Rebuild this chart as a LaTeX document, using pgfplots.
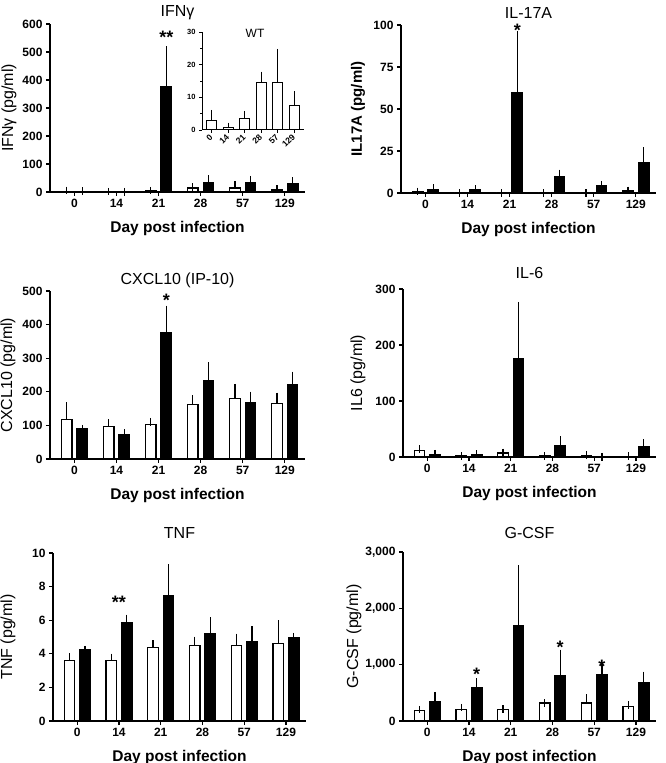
\documentclass[border=0pt]{standalone}
\usepackage{fontspec}
\setmainfont{Liberation Sans}
\usepackage{pgfplots}
\pgfplotsset{compat=1.18}
\newcommand\tickfont{\bfseries\fontsize{12}{14}\selectfont}
\newcommand\titlefont{\fontsize{16}{18}\selectfont}
\newcommand\ylabfont{\fontsize{16}{18}\selectfont}
\newcommand\xlabfont{\bfseries\fontsize{15.5}{18}\selectfont}
\newcommand\starfont{\bfseries\fontsize{18}{20}\selectfont}
\pgfplotsset{
  panel/.style={
    scale only axis, width=255pt, height=168pt,
    xmin=-0.58, xmax=5.48, ymin=0,
    axis x line*=bottom, axis y line*=left,
    axis line style={line width=1.4pt, -},
    xtick={0,1,2,3,4,5}, xticklabels={0,14,21,28,57,129},
    tick align=outside, major tick length=4pt,
    every tick/.style={black, line width=1.2pt},
    ticklabel style={font=\tickfont},
    /pgf/number format/assume math mode=true,
    /pgf/number format/1000 sep={,},
    ybar, bar width=0.25, clip=false,
    title style={at={(0.5,1)}, anchor=center, font=\titlefont},
    xlabel={Day post infection},
    xlabel style={at={(0.5,0)}, anchor=center, yshift=-36pt, font=\xlabfont},
    ylabel style={at={(0,0.5)}, anchor=center, font=\ylabfont},
  },
  wt/.style={draw=black, fill=white, line width=1.3pt, bar shift=-0.185,
    error bars/.cd, y dir=plus, y explicit,
    error bar style={line width=1.2pt, black},
    error mark options={line width=1.2pt, mark size=3.8pt, black}},
  ko/.style={draw=black, fill=black, line width=1.3pt, bar shift=0.185,
    error bars/.cd, y dir=plus, y explicit,
    error bar style={line width=1.2pt, black},
    error mark options={line width=1.2pt, mark size=3.8pt, black}},
}
\begin{document}
\begin{tikzpicture}[x=1pt,y=1pt]
\useasboundingbox (0,0) rectangle (666,763);

% ---------- IFN gamma ----------
\begin{axis}[panel, at={(50pt,571pt)}, anchor=south west,
  ymax=600, ytick={0,100,...,600},
  title={IFNγ}, title style={yshift=5pt},
  ylabel={IFNγ (pg/ml)}, ylabel style={yshift=41pt}]
\addplot[wt] coordinates {(0,2.8) +- (0,2.6) (1,0.8) +- (0,0.7) (2,3.4) +- (0,1.7) (3,14.4) +- (0,2.7) (4,14.6) +- (0,9.5) (5,7.6) +- (0,3.5)};
\addplot[ko] coordinates {(0,2) +- (0,0.5) (1,1) +- (0,0) (2,375) +- (0,132) (3,35) +- (0,12) (4,33) +- (0,11) (5,30) +- (0,9)};
\node[font=\starfont, anchor=base, yshift=-10pt] at (axis cs:2.185,565) {**};
\end{axis}

% ---------- inset WT ----------
\begin{axis}[scale only axis, width=102pt, height=98pt, at={(202pt,633pt)}, anchor=south west,
  xmin=-0.6, xmax=5.58, ymin=0, ymax=30,
  axis x line*=bottom, axis y line*=left,
  axis line style={line width=1pt, -},
  ytick={0,10,20,30}, minor ytick={5,15,25},
  xtick={0,1,2,3,4,5}, xticklabels={0,14,21,28,57,129},
  tick align=outside, major tick length=3pt, minor tick length=2pt,
  every tick/.style={black, line width=0.9pt},
  yticklabel style={font=\bfseries\fontsize{7.5}{8}\selectfont},
  xticklabel shift=2pt,
  xticklabel style={rotate=45, anchor=east, inner sep=1pt, font=\bfseries\fontsize{8.5}{9}\selectfont},
  /pgf/number format/assume math mode=true,
  ybar, bar width=0.6, clip=false]
\addplot[draw=black, fill=white, line width=1pt,
    error bars/.cd, y dir=plus, y explicit,
    error bar style={line width=0.9pt, black},
    error mark options={line width=0.9pt, mark size=2.5pt, black}]
  coordinates {(0,2.8) +- (0,2.6) (1,0.8) +- (0,0.7) (2,3.4) +- (0,1.7) (3,14.4) +- (0,2.7) (4,14.6) +- (0,9.5) (5,7.6) +- (0,3.5)};
\node[font=\fontsize{12}{14}\selectfont] at (rel axis cs:0.52,0.99) {WT};
\end{axis}

% ---------- IL-17A ----------
\begin{axis}[panel, at={(401pt,570pt)}, anchor=south west,
  ymax=100, ytick={0,25,50,75,100},
  title={IL-17A}, title style={yshift=6pt},
  ylabel={IL17A (pg/ml)}, ylabel style={yshift=43pt, font=\bfseries\fontsize{15}{18}\selectfont}]
\addplot[wt] coordinates {(0,1) +- (0,0) (1,0) +- (0,0) (2,0) +- (0,0) (3,0) +- (0,0) (4,0) +- (0,0) (5,1.2) +- (0,0.4)};
\addplot[ko] coordinates {(0,2) +- (0,1) (1,1.8) +- (0,0.5) (2,60) +- (0,34) (3,10) +- (0,1.6) (4,4.2) +- (0,0.8) (5,18) +- (0,7)};
\node[font=\starfont, anchor=base, yshift=-10pt] at (axis cs:2.185,99) {*};
\end{axis}

% ---------- CXCL10 ----------
\begin{axis}[panel, at={(50pt,304pt)}, anchor=south west,
  ymax=500, ytick={0,100,...,500},
  title={CXCL10 (IP-10)}, title style={yshift=5pt},
  ylabel={CXCL10 (pg/ml)}, ylabel style={yshift=42pt}]
\addplot[wt] coordinates {(0,117) +- (0,41) (1,97) +- (0,10) (2,102) +- (0,9) (3,163) +- (0,15) (4,181) +- (0,31) (5,166) +- (0,20)};
\addplot[ko] coordinates {(0,90) +- (0,0) (1,72) +- (0,5) (2,376) +- (0,69) (3,232) +- (0,45) (4,169) +- (0,20) (5,220) +- (0,29)};
\node[font=\starfont, anchor=base, yshift=-10pt] at (axis cs:2.185,484) {*};
\end{axis}

% ---------- IL-6 ----------
\begin{axis}[panel, at={(403pt,306pt)}, anchor=south west, width=253pt,
  ymax=300, ytick={0,100,200,300},
  title={IL-6}, title style={yshift=10pt},
  ylabel={IL6 (pg/ml)}, ylabel style={yshift=45pt}]
\addplot[wt] coordinates {(0,11) +- (0,3) (1,2) +- (0,0) (2,7) +- (0,1) (3,2) +- (0,0) (4,3) +- (0,1) (5,1.5) +- (0,0)};
\addplot[ko] coordinates {(0,4) +- (0,2) (1,4) +- (0,1) (2,175) +- (0,95) (3,21) +- (0,9) (4,0.5) +- (0,0) (5,18) +- (0,7)};
\end{axis}

% ---------- TNF ----------
\begin{axis}[panel, at={(53pt,42pt)}, anchor=south west, width=253pt,
  ymax=10, ytick={0,2,...,10},
  title={TNF}, title style={yshift=14pt},
  ylabel={TNF (pg/ml)}, ylabel style={yshift=45pt}]
\addplot[wt] coordinates {(0,3.6) +- (0,0.22) (1,3.6) +- (0,0.18) (2,4.36) +- (0,0.21) (3,4.5) +- (0,0.3) (4,4.48) +- (0,0.49) (5,4.61) +- (0,1.17)};
\addplot[ko] coordinates {(0,4.22) +- (0,0.02) (1,5.84) +- (0,0.26) (2,7.45) +- (0,1.65) (3,5.17) +- (0,0.77) (4,4.71) +- (0,0.69) (5,4.97) +- (0,0.05)};
\node[font=\starfont, anchor=base, yshift=-10pt] at (axis cs:1,7.3) {**};
\end{axis}

% ---------- G-CSF ----------
\begin{axis}[panel, at={(403pt,42pt)}, anchor=south west, width=253pt, height=169pt,
  ymax=3000, ytick={0,1000,2000,3000},
  title={G-CSF}, title style={yshift=13pt},
  ylabel={G-CSF (pg/ml)}, ylabel style={yshift=49pt}]
\addplot[wt] coordinates {(0,184) +- (0,18) (1,202) +- (0,36) (2,202) +- (0,12) (3,321) +- (0,0) (4,321) +- (0,89) (5,261) +- (0,24)};
\addplot[ko] coordinates {(0,350) +- (0,100) (1,588) +- (0,107) (2,1687) +- (0,1010) (3,802) +- (0,398) (4,826) +- (0,137) (5,677) +- (0,131)};
\node[font=\starfont, anchor=base, yshift=-10pt] at (axis cs:1.185,900) {*};
\node[font=\starfont, anchor=base, yshift=-10pt] at (axis cs:3.185,1380) {*};
\node[font=\starfont, anchor=base, yshift=-10pt] at (axis cs:4.185,1030) {*};
\end{axis}
\end{tikzpicture}
\end{document}
